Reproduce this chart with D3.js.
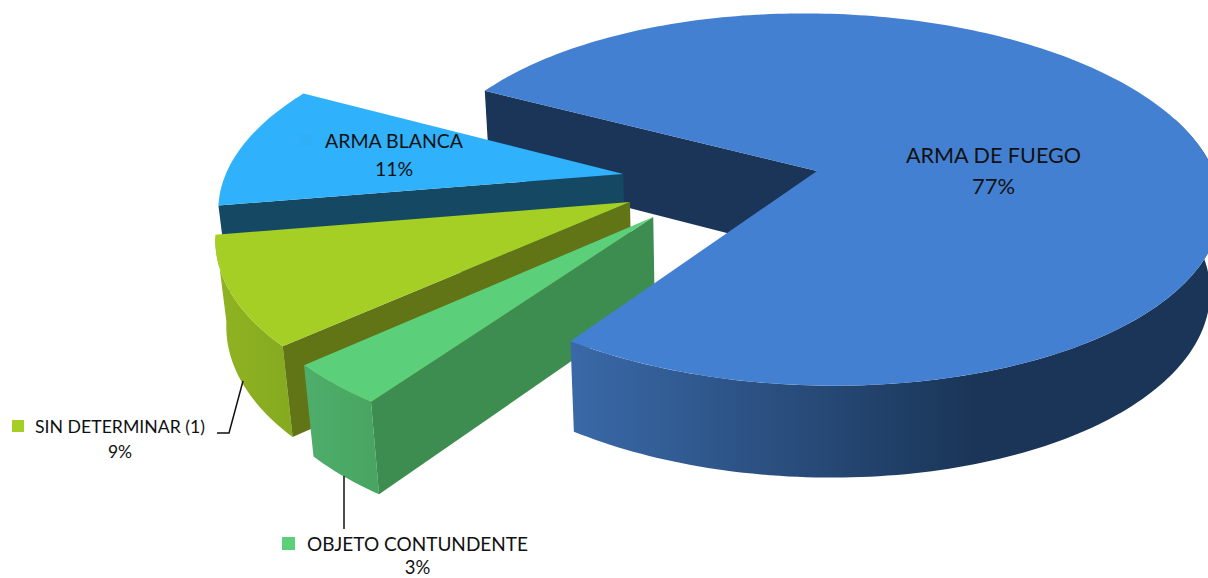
<!DOCTYPE html>
<html>
<head>
<meta charset="utf-8">
<script src="https://cdn.jsdelivr.net/npm/d3@7"></script>
<style>
  html, body { margin: 0; padding: 0; background: #fff; overflow: hidden; }
  text { font-family: Lato, "Open Sans", sans-serif; fill: #111; }
</style>
</head>
<body>
<div id="vis-display"></div>
<script>
// Exploded 3D pie: d3.pie gives the angles, project() fakes the tilted camera.

const CATEGORIES = ["ARMA DE FUEGO", "OBJETO CONTUNDENTE", "SIN DETERMINAR (1)", "ARMA BLANCA"];
const PERCENTS   = [77, 3, 9, 11];          // as printed on the labels
const SHARES     = [76.9, 3.5, 9.1, 10.5];  // unrounded

const TOP_COLORS  = ["#4480d2", "#5bcf7a", "#a5cf24", "#2fb1fb"];
const SIDE_COLORS = ["#1a3557", "#3d8d51", "#617516", "#144863"];
const RIM_STOPS   = [["#3a69a8", "#1a3557"], ["#50ae6c", "#47a561"], ["#8fb321", "#86aa1f"], ["#144863", "#144863"]];

const W = 1208, H = 578;

// camera + pie shape
const CX = 721, CY = 181.5;
const RX = 400, RY = 185;
const PERSP     = 0.155;
const EXPLODE   = 0.249;
const DEPTH     = 85;
const DEPTH_K   = 0.08;
const VANISH_X  = 720;
const VANISH_D  = 4000;
const FIRST_DEG = 298.2;

const svg  = d3.select("#vis-display").append("svg").attr("width", W).attr("height", H);
const defs = svg.append("defs");

const pie = d3.pie().sort(null)
  .startAngle(FIRST_DEG * Math.PI / 180)
  .endAngle((FIRST_DEG + 360) * Math.PI / 180);

const slices = pie(SHARES).map((d, i) => {
  const mid = (d.startAngle + d.endAngle) / 2;
  return { ...d, i, ex: EXPLODE * Math.sin(mid), ey: EXPLODE * Math.cos(mid) };
});

// world point on the slice -> screen; z = 0 top face, z = 1 bottom face
function project(s, r, a, z) {
  const X = s.ex + r * Math.sin(a);
  const Y = s.ey + r * Math.cos(a);
  const w = 1 + PERSP * Y;
  const x = CX + RX * X / w;
  const y = CY - RY * Y / w;
  if (!z) return [x, y];
  const h = DEPTH / (1 + DEPTH_K * Y);
  return [x + (VANISH_X - x) * h / VANISH_D, y + h];
}

const line = d3.line();

function arcPts(s, a0, a1, z) {
  const n = Math.max(2, Math.ceil(Math.abs(a1 - a0) / 0.02));
  return d3.range(n + 1).map(k => project(s, 1, a0 + (a1 - a0) * k / n, z));
}

function drawSideWall(g, s) {
  g.append("path")
    .attr("d", line([
      project(s, 0, s.startAngle, 0),
      project(s, 1, s.startAngle, 0),
      project(s, 1, s.startAngle, 1),
      project(s, 0, s.startAngle, 1),
    ]) + "Z")
    .attr("fill", SIDE_COLORS[s.i]);
}

function drawRimWall(g, s, x0, x1) {
  const id = "rim" + s.i;
  const grad = defs.append("linearGradient").attr("id", id)
    .attr("gradientUnits", "userSpaceOnUse")
    .attr("x1", x0).attr("x2", x1).attr("y1", 0).attr("y2", 0);
  grad.append("stop").attr("offset", 0).attr("stop-color", RIM_STOPS[s.i][0]);
  grad.append("stop").attr("offset", 1).attr("stop-color", RIM_STOPS[s.i][1]);

  // the blue slice only shows its rim from the right side round to the front
  const a0 = s.i === 0 ? 2 * Math.PI + Math.PI / 2 - 0.3 : s.startAngle;
  const pts = arcPts(s, a0, s.endAngle, 0).concat(arcPts(s, s.endAngle, a0, 1));
  g.append("path").attr("d", line(pts) + "Z").attr("fill", `url(#${id})`);
}

function drawTop(g, s) {
  const pts = [project(s, 0, 0, 0)].concat(arcPts(s, s.startAngle, s.endAngle, 0));
  g.append("path").attr("d", line(pts) + "Z").attr("fill", TOP_COLORS[s.i]);
}

const g = svg.append("g");
const [blue, green, yellow, knife] = slices;

// back to front: blue's inner wall, then the small slices, blue's top last
drawSideWall(g, blue);

drawSideWall(g, knife);
drawTop(g, knife);

drawRimWall(g, yellow, 215, 292);
drawSideWall(g, yellow);
drawTop(g, yellow);

drawRimWall(g, green, 303, 379);
drawSideWall(g, green);
drawTop(g, green);

drawRimWall(g, blue, 571, 975);
drawTop(g, blue);

// ── Labels ───────────────────────────────────────────────────────────────────

const pct = d => `${d}%`;

const LABEL_LAYOUT = [
  { i: 0, cx: 993.5, y1: 163, y2: 194, size: 22,   width: 175, key: [878, 148, 13], keyColor: "#4280d0" },
  { i: 3, cx: 394,   y1: 148, y2: 176, size: 19.5, width: 138, key: [300, 134, 12], keyColor: "#2eaff8" },
  { i: 2, cx: 120,   y1: 433, y2: 458, size: 17.5, width: 170, key: [12, 420, 12],  keyColor: TOP_COLORS[2] },
  { i: 1, cx: 417.5, y1: 551, y2: 574, size: 18.5, width: 221, key: [282, 537, 13], keyColor: TOP_COLORS[1] },
];

LABEL_LAYOUT.forEach(l => {
  svg.append("rect")
    .attr("x", l.key[0]).attr("y", l.key[1])
    .attr("width", l.key[2]).attr("height", l.key[2])
    .attr("fill", l.keyColor);
  svg.append("text")
    .attr("x", l.cx).attr("y", l.y1).attr("text-anchor", "middle")
    .attr("textLength", l.width).attr("lengthAdjust", "spacingAndGlyphs")
    .style("font-size", l.size + "px")
    .text(CATEGORIES[l.i]);
  svg.append("text")
    .attr("x", l.cx).attr("y", l.y2).attr("text-anchor", "middle")
    .style("font-size", l.size + "px")
    .text(pct(PERCENTS[l.i]));
});

const LEADERS = [
  [[243, 381], [229, 433], [217, 433]],
  [[344, 476], [344, 529]],
];

svg.selectAll(".leader").data(LEADERS).join("path")
  .attr("class", "leader")
  .attr("d", d => line(d))
  .attr("fill", "none").attr("stroke", "#111").attr("stroke-width", 1.5);
</script>
</body>
</html>
